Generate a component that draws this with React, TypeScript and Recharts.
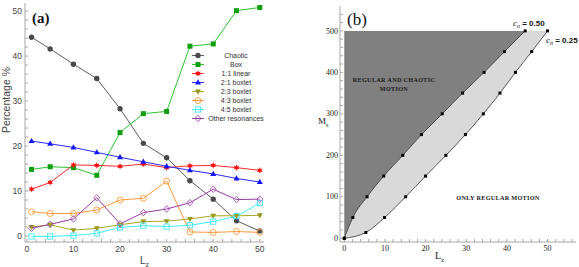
import React from 'react';
import { ComposedChart, Line, Area, XAxis, YAxis, Legend } from 'recharts';

// panel (a): orbit percentages against L_z
const lzValues = [1, 5, 10, 15, 20, 25, 30, 35, 40, 45, 50];
const chaotic = [44.2, 41.6, 38.2, 35.0, 28.3, 20.6, 17.4, 12.3, 8.2, 3.4, 1.1];
const box = [14.8, 15.4, 15.2, 13.5, 23.0, 27.2, 27.7, 42.2, 42.7, 50.1, 50.8];
const linear11 = [10.4, 11.9, 15.8, 15.7, 15.5, 16.0, 15.2, 15.6, 15.7, 15.2, 14.6];
const boxlet21 = [21.1, 20.5, 19.7, 18.6, 17.5, 16.5, 15.5, 14.6, 13.8, 12.8, 12.0];
const boxlet23 = [2.0, 2.5, 1.3, 1.7, 2.5, 3.2, 3.3, 3.8, 4.5, 4.5, 4.6];
const boxlet43 = [5.4, 5.0, 5.0, 5.8, 8.0, 8.4, 12.2, 0.9, 0.8, 1.0, 0.8];
const boxlet45 = [-0.1, -0.1, 0.1, 0.6, 1.9, 2.3, 2.1, 2.4, 3.2, 4.4, 7.3];
const otherRes = [1.7, 2.6, 3.8, 8.5, 2.7, 5.2, 6.0, 7.4, 10.4, 8.1, 8.2];

const seriesNames = ['Chaotic', 'Box', '1:1 linear', '2:1 boxlet', '2:3 boxlet', '4:3 boxlet', '4:5 boxlet', 'Other resonances'];

// panel (b): c_n curves in the (L_z, M_s) plane
const massValues50 = [0, 50, 100, 150, 200, 250, 300, 350, 400, 450, 500];
const lz50 = [0, 2.1, 5.6, 9.7, 14.4, 19.0, 24.1, 29.1, 34.4, 39.4, 44.5];
const massValues25 = [0, 14, 50, 100, 150, 200, 250, 300, 350, 400, 450, 500];
const lz25 = [0, 5.3, 9.9, 15.1, 20.0, 25.0, 29.8, 34.2, 38.3, 42.1, 46.1, 50.0];
const massTop = 500;

const range = (from: number, to: number, step: number) => {
  const out: number[] = [];
  for (let v = from; v <= to + 1e-9; v += step) out.push(v);
  return out;
};

const series = [
  { key: 'chaotic', values: chaotic, line: '#5c5c5c', mark: '#4a4a4a', shape: 'circle' },
  { key: 'box', values: box, line: '#2ec42e', mark: '#0e9e0e', shape: 'square' },
  { key: 'linear11', values: linear11, line: '#ff2a2a', mark: '#ff1010', shape: 'star' },
  { key: 'boxlet21', values: boxlet21, line: '#2a2aff', mark: '#1414ff', shape: 'triUp' },
  { key: 'boxlet23', values: boxlet23, line: '#a8a820', mark: '#98981a', shape: 'triDown' },
  { key: 'boxlet43', values: boxlet43, line: '#ff9a3a', mark: '#ff9a3a', shape: 'openCircle' },
  { key: 'boxlet45', values: boxlet45, line: '#3ef0f8', mark: '#3ee8f8', shape: 'openSquare' },
  { key: 'otherRes', values: otherRes, line: '#9a3aa4', mark: '#a050b0', shape: 'openDiamond' },
].map((s, i) => ({ ...s, name: seriesNames[i] }));

const rowsA = lzValues.map((lz, i) => {
  const row: Record<string, number> = { Lz: lz };
  series.forEach((s) => { row[s.key] = s.values[i]; });
  return row;
});

const curve50 = lz50.map((L, i) => ({ L, M: massValues50[i] }));
const curve25 = lz25.map((L, i) => ({ L, M: massValues25[i] }));
const darkBand = lz50.map((L, i) => ({ L, band: [massValues50[i], massTop] }));
const lightBand = lz25.map((L, i) => ({ L, band: [massValues25[i], massTop] }));

const frameGray = '#a8a8a8';

const Marker = ({ shape, cx, cy, color }: { shape: string; cx: number; cy: number; color: string }) => {
  if (cx == null || cy == null) return <g />;
  switch (shape) {
    case 'circle':
      return <circle cx={cx} cy={cy} r={2.7} fill={color} />;
    case 'square':
      return <rect x={cx - 2.5} y={cy - 2.5} width={5} height={5} fill={color} />;
    case 'star': {
      const pts: string[] = [];
      for (let k = 0; k < 12; k++) {
        const a = (Math.PI / 6) * k - Math.PI / 2;
        const r = k % 2 === 0 ? 3.3 : 1.6;
        pts.push(`${cx + r * Math.cos(a)},${cy + r * Math.sin(a)}`);
      }
      return <polygon points={pts.join(' ')} fill={color} />;
    }
    case 'triUp':
      return <polygon points={`${cx},${cy - 3.2} ${cx + 3},${cy + 2} ${cx - 3},${cy + 2}`} fill={color} />;
    case 'triDown':
      return <polygon points={`${cx},${cy + 3.2} ${cx + 3},${cy - 2} ${cx - 3},${cy - 2}`} fill={color} />;
    case 'openCircle':
      return <circle cx={cx} cy={cy} r={3} fill="none" stroke={color} strokeWidth={0.9} />;
    case 'openSquare':
      return <rect x={cx - 2.6} y={cy - 2.6} width={5.2} height={5.2} fill="none" stroke={color} strokeWidth={0.9} />;
    default:
      return (
        <polygon
          points={`${cx},${cy - 3.3} ${cx + 3},${cy} ${cx},${cy + 3.3} ${cx - 3},${cy}`}
          fill="none"
          stroke={color}
          strokeWidth={0.9}
        />
      );
  }
};

// tick that only writes a label on the major steps
const makeTick = (step: number, side: 'bottom' | 'left', style: React.CSSProperties) => (props: any) => {
  const { x, y, payload } = props;
  if (Math.abs(payload.value % step) > 1e-6) return <g />;
  return (
    <text
      x={x}
      y={y}
      dy={side === 'bottom' ? '0.71em' : '0.33em'}
      textAnchor={side === 'bottom' ? 'middle' : 'end'}
      style={style}
    >
      {payload.value}
    </text>
  );
};

const tickStyleA: React.CSSProperties = { fontFamily: 'Liberation Sans', fontSize: 8.5, fill: '#444' };
const tickStyleB: React.CSSProperties = { fontFamily: 'Liberation Serif', fontSize: 8, fill: '#222' };

// legend keeps the plotting order of the series, not the alphabetical one
const LegendBox = ({ payload }: any) => {
  const shown = new Set((payload || []).map((e: any) => e.dataKey));
  return (
    <div style={{ fontFamily: 'Liberation Sans', fontSize: 7, color: '#333' }}>
      {series.filter((s) => shown.has(s.key)).map((s) => (
        <div key={s.key} style={{ display: 'flex', alignItems: 'center', height: 9 }}>
          <svg width={14} height={9} style={{ flex: 'none' }}>
            <line x1={1} y1={4.5} x2={13} y2={4.5} stroke={s.line} strokeWidth={1} />
            <Marker shape={s.shape} cx={7} cy={4.5} color={s.mark} />
          </svg>
          <span style={{ width: 62, textAlign: 'center', whiteSpace: 'nowrap' }}>{s.name}</span>
        </div>
      ))}
    </div>
  );
};

const PanelA = () => (
  <ComposedChart width={290} height={267} data={rowsA} margin={{ top: 3, right: 26, bottom: 0, left: 0 }}>
    <XAxis
      dataKey="Lz"
      type="number"
      domain={[-0.4, 50.9]}
      allowDataOverflow
      ticks={range(0, 50, 2)}
      interval={0}
      height={25}
      tickSize={-3}
      tickMargin={7}
      tickLine={{ stroke: frameGray }}
      axisLine={{ stroke: frameGray }}
      tick={makeTick(10, 'bottom', tickStyleA)}
    />
    <YAxis
      type="number"
      domain={[-1.33, 51.8]}
      allowDataOverflow
      ticks={range(0, 50, 2)}
      interval={0}
      width={25}
      tickSize={-3}
      tickMargin={6}
      tickLine={{ stroke: frameGray }}
      axisLine={{ stroke: frameGray }}
      tick={makeTick(10, 'left', tickStyleA)}
    />
    <XAxis
      xAxisId="top"
      orientation="top"
      mirror
      height={0}
      type="number"
      domain={[-0.4, 50.9]}
      allowDataOverflow
      ticks={range(0, 50, 2)}
      interval={0}
      tick={false}
      tickSize={3}
      tickLine={{ stroke: frameGray }}
      axisLine={{ stroke: frameGray }}
    />
    <YAxis
      yAxisId="right"
      orientation="right"
      mirror
      width={0}
      type="number"
      domain={[-1.33, 51.8]}
      allowDataOverflow
      ticks={range(0, 50, 2)}
      interval={0}
      tick={false}
      tickSize={3}
      tickLine={{ stroke: frameGray }}
      axisLine={{ stroke: frameGray }}
    />
    {series.map((s) => (
      <Line
        key={s.key}
        dataKey={s.key}
        name={s.name}
        type="linear"
        stroke={s.line}
        strokeWidth={1}
        isAnimationActive={false}
        dot={(p: any) => <Marker key={`${s.key}-${p.index}`} shape={s.shape} cx={p.cx} cy={p.cy} color={s.mark} />}
      />
    ))}
    <Legend
      layout="vertical"
      align="center"
      verticalAlign="middle"
      content={<LegendBox />}
      wrapperStyle={{ left: 191, top: 51, width: 80 }}
    />
  </ComposedChart>
);

const lineDot = (p: any) =>
  p.cx == null ? <g key={p.index} /> : <rect key={p.index} x={p.cx - 1.5} y={p.cy - 1.5} width={3} height={3} fill="#000" />;

const PanelB = () => (
  <ComposedChart width={289} height={267} margin={{ top: 6, right: 3, bottom: 0, left: 0 }}>
    <XAxis
      dataKey="L"
      type="number"
      domain={[-1.06, 57]}
      allowDataOverflow
      ticks={range(0, 56, 2)}
      interval={0}
      height={25}
      tickSize={-3}
      tickMargin={6}
      tickLine={{ stroke: frameGray }}
      axisLine={{ stroke: frameGray }}
      tick={makeTick(10, 'bottom', tickStyleB)}
    />
    <YAxis
      type="number"
      domain={[-9, 560]}
      allowDataOverflow
      ticks={range(0, 540, 20)}
      interval={0}
      width={50}
      tickSize={-3}
      tickMargin={5}
      tickLine={{ stroke: frameGray }}
      axisLine={{ stroke: frameGray }}
      tick={makeTick(100, 'left', tickStyleB)}
    />
    <XAxis
      xAxisId="top"
      orientation="top"
      mirror
      height={0}
      type="number"
      domain={[-1.06, 57]}
      allowDataOverflow
      ticks={range(0, 56, 2)}
      interval={0}
      tick={false}
      tickSize={3}
      tickLine={{ stroke: frameGray }}
      axisLine={{ stroke: frameGray }}
    />
    <YAxis
      yAxisId="right"
      orientation="right"
      mirror
      width={0}
      type="number"
      domain={[-9, 560]}
      allowDataOverflow
      ticks={range(0, 540, 20)}
      interval={0}
      tick={false}
      tickSize={3}
      tickLine={{ stroke: frameGray }}
      axisLine={{ stroke: frameGray }}
    />
    <Area data={lightBand} dataKey="band" type="monotone" fill="#d9d9d9" fillOpacity={1} stroke="none" isAnimationActive={false} />
    <Area data={darkBand} dataKey="band" type="monotone" fill="#808080" fillOpacity={1} stroke="none" isAnimationActive={false} />
    <Line data={curve50} dataKey="M" type="monotone" stroke="#333" strokeWidth={0.8} dot={lineDot} isAnimationActive={false} />
    <Line data={curve25} dataKey="M" type="monotone" stroke="#333" strokeWidth={0.8} dot={lineDot} isAnimationActive={false} />
  </ComposedChart>
);

const Sub = ({ children }: { children: React.ReactNode }) => (
  <tspan dy={2.5} fontSize="0.7em">{children}</tspan>
);

export default function App() {
  return (
    <div style={{ position: 'absolute', left: 0, top: 0, width: 579, height: 267, background: '#fff', overflow: 'hidden' }}>
      <div style={{ position: 'absolute', left: 0, top: 0 }}>
        <PanelA />
      </div>
      <div style={{ position: 'absolute', left: 290, top: 0 }}>
        <PanelB />
      </div>
      <svg width={579} height={267} style={{ position: 'absolute', left: 0, top: 0, pointerEvents: 'none' }}>
        {/* panel (a) labels */}
        <text x={32} y={23} style={{ fontFamily: 'Liberation Serif', fontSize: 15, fontWeight: 700, fill: '#111' }}>(a)</text>
        <text
          x={10}
          y={100}
          transform="rotate(-90 10 100)"
          textAnchor="middle"
          style={{ fontFamily: 'Liberation Sans', fontSize: 10.5, fill: '#444' }}
        >
          Percentage %
        </text>
        <text x={140} y={264} style={{ fontFamily: 'Liberation Sans', fontSize: 10, fill: '#444' }}>
          L<Sub>z</Sub>
        </text>
        {/* panel (b) labels */}
        <text x={347} y={25} style={{ fontFamily: 'Liberation Serif', fontSize: 17, fill: '#111' }}>(b)</text>
        <text x={318} y={124} style={{ fontFamily: 'Liberation Serif', fontSize: 9, fill: '#222' }}>
          M<Sub>s</Sub>
        </text>
        <text x={435} y={259} style={{ fontFamily: 'Liberation Serif', fontSize: 10, fill: '#222' }}>
          L<Sub>z</Sub>
        </text>
        <g style={{ fontFamily: 'Liberation Serif', fontSize: 6.2, fontWeight: 700, fill: '#1a1a1a', letterSpacing: 0.3 }}>
          <text x={394} y={82} textAnchor="middle">REGULAR AND CHAOTIC</text>
          <text x={394} y={91} textAnchor="middle">MOTION</text>
          <text x={498} y={199.5} textAnchor="middle">ONLY REGULAR MOTION</text>
        </g>
        <text x={513} y={26} style={{ fontSize: 8, fill: '#111' }}>
          <tspan fontFamily="Liberation Serif" fontStyle="italic" fontSize={9}>c</tspan>
          <tspan fontFamily="Liberation Serif" fontStyle="italic" fontSize={6} dy={2}>n</tspan>
          <tspan fontFamily="Liberation Sans" fontWeight={700} dy={-2}> = 0.50</tspan>
        </text>
        <text x={546} y={43} style={{ fontSize: 8, fill: '#111' }}>
          <tspan fontFamily="Liberation Serif" fontStyle="italic" fontSize={9}>c</tspan>
          <tspan fontFamily="Liberation Serif" fontStyle="italic" fontSize={6} dy={2}>n</tspan>
          <tspan fontFamily="Liberation Sans" fontWeight={700} dy={-2}> = 0.25</tspan>
        </text>
      </svg>
    </div>
  );
}
